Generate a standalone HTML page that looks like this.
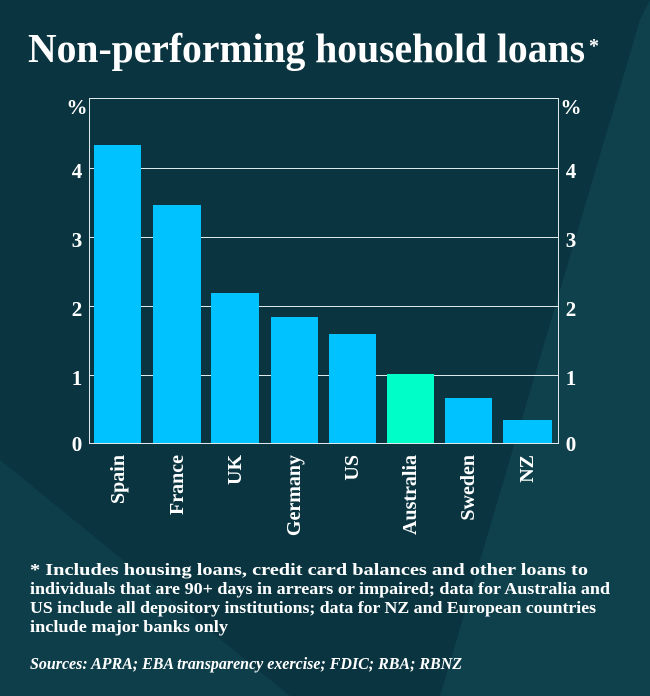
<!DOCTYPE html>
<html><head><meta charset="utf-8"><style>
html,body{margin:0;padding:0}
body{width:650px;height:696px;overflow:hidden;background:#0a3540;font-family:"Liberation Serif",serif;color:#fff;position:relative}
</style></head><body>
<svg width="650" height="696" style="position:absolute;left:0;top:0">
<polygon points="650,0 650,696 440,696 640,20" fill="#0f414c"/>
<polygon points="0,460 0,696 290,696" fill="#0e3e49"/>
<g font-family="Liberation Serif" font-weight="bold" fill="#fff">
<text x="28" y="62" font-size="41" textLength="557" lengthAdjust="spacingAndGlyphs">Non-performing household loans</text>
<text x="589" y="52" font-size="20">*</text>
</g>
<g stroke="#dfe8ea" stroke-width="1" fill="none">
<rect x="89.5" y="98.5" width="469" height="345"/>
<line x1="89" y1="168.5" x2="558" y2="168.5"/>
<line x1="89" y1="237.5" x2="558" y2="237.5"/>
<line x1="89" y1="306.5" x2="558" y2="306.5"/>
<line x1="89" y1="375.5" x2="558" y2="375.5"/>
</g>
<g fill="#00c2ff">
<rect x="94" y="145" width="47" height="298"/>
<rect x="153" y="205" width="48" height="238"/>
<rect x="211" y="293" width="48" height="150"/>
<rect x="271" y="317" width="47" height="126"/>
<rect x="329" y="334" width="47" height="109"/>
<rect x="387" y="374" width="47" height="69" fill="#00ffc8"/>
<rect x="445" y="398" width="47" height="45"/>
<rect x="503" y="420" width="49" height="23"/>
</g>
<line x1="89" y1="443.5" x2="558" y2="443.5" stroke="#dfe8ea"/>
<g font-family="Liberation Serif" font-weight="bold" font-size="21" fill="#fff">
<text x="77" y="114" text-anchor="middle">%</text>
<text x="77" y="178" text-anchor="middle">4</text>
<text x="77" y="247" text-anchor="middle">3</text>
<text x="77" y="316" text-anchor="middle">2</text>
<text x="77" y="385" text-anchor="middle">1</text>
<text x="77" y="451" text-anchor="middle">0</text>
<text x="571" y="114" text-anchor="middle">%</text>
<text x="571" y="178" text-anchor="middle">4</text>
<text x="571" y="247" text-anchor="middle">3</text>
<text x="571" y="316" text-anchor="middle">2</text>
<text x="571" y="385" text-anchor="middle">1</text>
<text x="571" y="451" text-anchor="middle">0</text>
</g>
<g font-family="Liberation Serif" font-weight="bold" font-size="20" fill="#fff" text-anchor="end">
<text transform="translate(124,455) rotate(-90)">Spain</text>
<text transform="translate(183,455) rotate(-90)">France</text>
<text transform="translate(241,455) rotate(-90)">UK</text>
<text transform="translate(300,455) rotate(-90)">Germany</text>
<text transform="translate(358,455) rotate(-90)">US</text>
<text transform="translate(416,455) rotate(-90)">Australia</text>
<text transform="translate(474,455) rotate(-90)">Sweden</text>
<text transform="translate(533,455) rotate(-90)">NZ</text>
</g>
<g font-family="Liberation Serif" font-weight="bold" font-size="17" fill="#fff">
<text x="30" y="575" textLength="558" lengthAdjust="spacingAndGlyphs">* Includes housing loans, credit card balances and other loans to</text>
<text x="30" y="594" textLength="580" lengthAdjust="spacingAndGlyphs">individuals that are 90+ days in arrears or impaired; data for Australia and</text>
<text x="30" y="613" textLength="566" lengthAdjust="spacingAndGlyphs">US include all depository institutions; data for NZ and European countries</text>
<text x="30" y="632" textLength="198" lengthAdjust="spacingAndGlyphs">include major banks only</text>
<text x="30" y="669" font-style="italic" textLength="432" lengthAdjust="spacingAndGlyphs">Sources: APRA; EBA transparency exercise; FDIC; RBA; RBNZ</text>
</g>
</svg>
</body></html>
